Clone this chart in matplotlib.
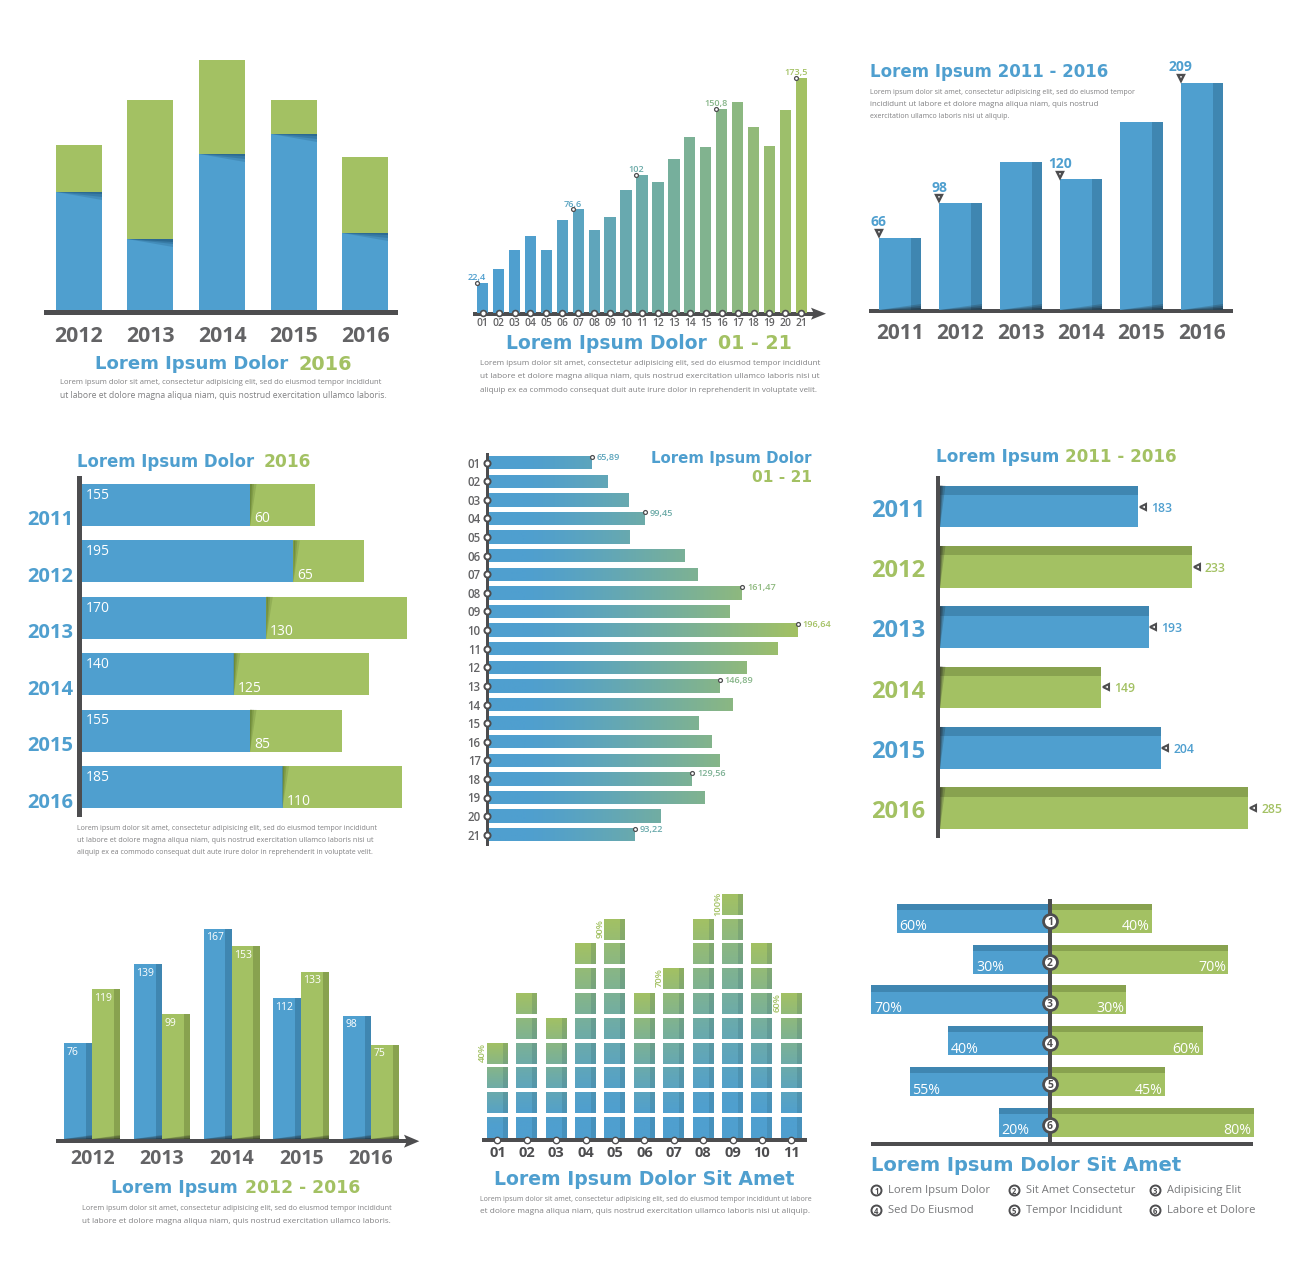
import numpy as np
import matplotlib
matplotlib.use("Agg")
import matplotlib.pyplot as plt
from matplotlib.font_manager import FontProperties
from matplotlib.textpath import TextPath
from matplotlib.path import Path
from matplotlib.patches import PathPatch, Polygon

W, H = 1300, 1267
BLUE = "#4F9FCF"; GREEN = "#A3C163"; DBLUE = "#3F86B1"; DGREEN = "#88A24F"
AXIS = "#4D4D4F"; LBL = "#636365"; BODY = "#808082"
VC = "center_baseline"

# --- Data ---
stack_years = ["2012", "2013", "2014", "2015", "2016"]
stack_blue = [118, 70.7, 156, 176, 77.3]
stack_green = [47.3, 139.3, 93.7, 34, 75.4]

trend_labels = [f"{i:02d}" for i in range(1, 22)]
trend_values = [22.4, 32.7, 46.3, 56.6, 46.8, 69.0, 76.6, 61.5, 70.6, 90.6, 102.0,
                97.0, 114.0, 130.0, 122.5, 150.8, 155.8, 137.4, 123.0, 150.0, 173.5]
trend_marked = {1: "22,4", 7: "76,6", 11: "102", 16: "150,8", 21: "173,5"}

step_years = ["2011", "2012", "2013", "2014", "2015", "2016"]
step_values = [66, 98, 136, 120, 173, 209]
step_marked = [0, 1, 3, 5]

hstack_years = ["2011", "2012", "2013", "2014", "2015", "2016"]
hstack_blue = [155, 195, 170, 140, 155, 185]
hstack_green = [60, 65, 130, 125, 85, 110]

hgrad_labels = [f"{i:02d}" for i in range(1, 22)]
hgrad_values = [65.89, 75.7, 89.0, 99.45, 89.7, 124.9, 133.0, 161.47, 153.3, 196.64, 184.3,
                164.2, 146.89, 155.5, 133.8, 142.3, 147.2, 129.56, 137.8, 109.6, 93.22]
hgrad_marked = {1: "65,89", 4: "99,45", 8: "161,47", 10: "196,64", 13: "146,89", 18: "129,56", 21: "93,22"}

hbar_years = ["2011", "2012", "2013", "2014", "2015", "2016"]
hbar_values = [183, 233, 193, 149, 204, 285]

group_years = ["2012", "2013", "2014", "2015", "2016"]
group_blue = [76, 139, 167, 112, 98]
group_green = [119, 99, 153, 133, 75]

block_labels = [f"{i:02d}" for i in range(1, 12)]
block_values = [40, 60, 50, 80, 90, 60, 70, 90, 100, 80, 60]
block_marked = [0, 4, 6, 8, 10]

diverge_left = [60, 30, 70, 40, 55, 20]
diverge_right = [40, 70, 30, 60, 45, 80]
legend_items = ["Lorem Ipsum Dolor", "Sit Amet Consectetur", "Adipisicing Elit",
                "Sed Do Eiusmod", "Tempor Incididunt", "Labore et Dolore"]

BODY1 = "Lorem ipsum dolor sit amet, consectetur adipisicing elit, sed do eiusmod tempor incididunt"
BODY2 = "ut labore et dolore magna aliqua niam, quis nostrud exercitation ullamco laboris nisi ut"
BODY3 = "aliquip ex ea commodo consequat duit aute irure dolor in reprehenderit in voluptate velit."

fig = plt.figure(figsize=(W / 100, H / 100), dpi=100, facecolor="white")
TITLEF = dict(family="DejaVu Sans", weight="bold")
NUMF = dict(family="Open Sans", weight="bold")
SEMI = dict(family="Open Sans", weight="semibold")
REG = dict(family="Open Sans", weight="normal")


def panel(x0, sx, y0, sy, z=1):
    """Full-figure transparent axes: x_px = x0 + sx*v, y_px = y0 - sy*v."""
    ax = fig.add_axes([0, 0, 1, 1], zorder=z)
    ax.set_xlim((0 - x0) / sx, (W - x0) / sx)
    ax.set_ylim((y0 - H) / sy, y0 / sy)
    ax.axis("off")
    ax.patch.set_alpha(0)
    return ax


def rgb(c):
    return np.array(matplotlib.colors.to_rgb(c))


def mix(t):
    t = np.clip((np.asarray(t, float) - 0.12) / 0.88, 0, 1) ** 1.25
    return rgb(BLUE) * (1 - t)[..., None] + rgb(GREEN) * t[..., None]


def gradient(ax, patches, extent, horizontal):
    verts, codes = [], []
    for p in patches:
        path = p.get_path().transformed(p.get_patch_transform())
        verts.extend(path.vertices)
        codes.extend(path.codes)
    clip = PathPatch(Path(verts, codes), transform=ax.transData, fc="none", ec="none")
    ax.add_patch(clip)
    t = np.linspace(0, 1, 256)
    img = mix(t)[None, :, :] if horizontal else mix(t)[:, None, :]
    xl, yl = ax.get_xlim(), ax.get_ylim()
    im = ax.imshow(img, extent=extent, origin="lower", aspect="auto", zorder=2, interpolation="bilinear")
    im.set_clip_path(clip)
    ax.set_xlim(xl); ax.set_ylim(yl)


page = panel(0, 1, 0, -1, z=10)
under = panel(0, 1, 0, -1, z=0)
middle = panel(0, 1, 0, -1, z=5)


def fit(x0, x1, y, s, color, font, ax=page, **kw):
    fp = FontProperties(**font)
    w = TextPath((0, 0), s, size=10, prop=fp).get_extents().width * 100 / 72
    size = 10 * (x1 - x0) / w
    return ax.text(x0, y - 0.07 * size, s, color=color, fontproperties=fp, fontsize=size,
                   ha="left", va=VC, **kw)


def rule(x0, x1, y0, y1, ax=under, color=AXIS):
    ax.fill([x0, x1, x1, x0], [y0, y0, y1, y1], color=color, lw=0, zorder=5)


def arrow(xbase, xtip, yc, h, ax=under):
    ax.fill([xbase, xtip, xbase, xbase + 3], [yc - h / 2, yc, yc + h / 2, yc], color=AXIS, lw=0, zorder=5)


LAYERS = [(1.0, 0.2), (0.6, 0.25), (0.3, 0.35)]


def soft(ax, make, color):
    for frac, a in LAYERS:
        ax.add_patch(Polygon(make(frac), closed=True, fc=color, alpha=a, lw=0, zorder=4))


def wedges(ax, lefts, width, height):
    for l in lefts:
        soft(ax, lambda f, l=l: [(l, 0), (l + width, 0), (l + width, height * f)], "#1c1c1c")


# --- 1. stacked columns ---
ax = panel(78.7, 71.67, 310, 1.0)
xs = np.arange(len(stack_years))
hw = 23 / 71.67
ax.bar(xs, stack_blue, width=2 * hw, color=BLUE, zorder=2)
ax.bar(xs, stack_green, bottom=stack_blue, width=2 * hw, color=GREEN, zorder=2)
for x, b in zip(xs, stack_blue):
    soft(ax, lambda f, x=x, b=b: [(x - hw, b), (x + hw, b), (x + hw, b - 8 * f)], "#17496b")
for x, y in zip(xs, stack_years):
    ax.text(x, -23.5, y, ha="center", va=VC, color=LBL, fontsize=15.3, **NUMF)
rule(44, 398, 310, 314.5)
fit(95, 287, 363, "Lorem Ipsum Dolor", BLUE, TITLEF)
fit(298, 349, 363, "2016", GREEN, TITLEF)
fit(60, 383, 382, BODY1, BODY, REG)
fit(60, 383, 395, "ut labore et dolore magna aliqua niam, quis nostrud exercitation ullamco laboris.", BODY, REG)

# --- 2. gradient trend ---
ax = panel(482.7 - 15.93, 15.93, 313, 1.354)
xs = np.arange(1, 22)
tt = (xs - 1) / 20
ax.bar(xs, trend_values, width=0.71, color=mix(tt), zorder=2)
rule(472.7, 815, 312, 315.5)
arrow(811, 826, 313.7, 12)
ax.plot(xs, np.zeros(21) - 0.2, "o", ms=4.2, mfc="white", mec=AXIS, mew=1.2, zorder=7, ls="none", clip_on=False)
for x, lab in zip(xs, trend_labels):
    ax.text(x, -6.4, lab, ha="center", va=VC, color=LBL, fontsize=7.4, **SEMI)
for i, lab in trend_marked.items():
    v = trend_values[i - 1]; c = mix((i - 1) / 20)
    ax.plot([i - 0.36], [v], "o", ms=2.8, mfc="white", mec=AXIS, mew=0.9, zorder=7)
    ax.text(i - 0.36, v + 4.6, lab, ha="center", va=VC, color=c, fontsize=6.6, **SEMI)
fit(506, 705.7, 342.7, "Lorem Ipsum Dolor", BLUE, TITLEF)
fit(717.7, 789.3, 342.7, "01 - 21", GREEN, TITLEF)
for y, l in zip([362.7, 376.3, 390], [BODY1, BODY2, BODY3]):
    fit(480, 816, y, l, BODY, REG)

# --- 3. columns with side face ---
ax = panel(900.1, 60.33, 309.5, 1.086)
xs = np.arange(6)
bw = 42.3 / 60.33; sw = 10.3 / 60.33
ax.bar(xs, step_values, width=bw, color=BLUE, zorder=2)
ax.bar(xs + bw / 2 - sw / 2, step_values, width=sw, color=DBLUE, zorder=3)
wedges(ax, xs - bw / 2, bw, 5)
for x, y in zip(xs, step_years):
    ax.text(x, -19.6, y, ha="center", va=VC, color=LBL, fontsize=15, **NUMF)
for i in step_marked:
    v = step_values[i]
    ax.plot([i - bw / 2], [v + 4.3], "v", ms=4.8, mfc="white", mec=AXIS, mew=1.7, zorder=7)
    ax.text(i - bw / 2, v + 15.5, str(v), ha="center", va=VC, color=BLUE, fontsize=10, **NUMF)
rule(869.3, 1232.7, 309.3, 313.3)
fit(870, 1106.7, 71, "Lorem Ipsum 2011 - 2016", BLUE, TITLEF)
fit(870, 1133, 92, "Lorem ipsum dolor sit amet, consectetur adipisicing elit, sed do eiusmod tempor", BODY, REG)
fit(870, 1098, 104, "incididunt ut labore et dolore magna aliqua niam, quis nostrud", BODY, REG)
fit(870, 1006, 116, "exercitation ullamco laboris nisi ut aliquip.", BODY, REG)

# --- 4. stacked horizontal ---
ax = panel(82, 1.084, 505, -56.45)
ys = np.arange(6)
ax.barh(ys, hstack_blue, height=42 / 56.45, color=BLUE, zorder=2)
ax.barh(ys, hstack_green, left=hstack_blue, height=42 / 56.45, color=GREEN, zorder=2)
hh = 21 / 56.45
for y, b, g, yr in zip(ys, hstack_blue, hstack_green, hstack_years):
    soft(ax, lambda f, y=y, b=b: [(b, y - hh), (b + 6 * f, y - hh), (b, y + hh)], "#4f6a22")
    ax.text(3.5, y - 0.21, str(b), color="white", ha="left", va=VC, fontsize=10, **REG)
    ax.text(b + 3.5, y + 0.21, str(g), color="white", ha="left", va=VC, fontsize=10, **REG)
    ax.text(-8, y + 0.23, yr, color=BLUE, ha="right", va=VC, fontsize=14.5, **NUMF)
rule(77.3, 82, 476, 816.7)
fit(77, 253, 461, "Lorem Ipsum Dolor", BLUE, TITLEF)
fit(264, 309, 461, "2016", GREEN, TITLEF)
for y, l in zip([828, 840, 852], [BODY1, BODY2, BODY3]):
    fit(77, 372, y, l, BODY, REG)

# --- 5. horizontal gradient ---
ax = panel(488.9, 1.57, 462.7 - 18.6, -18.6)
ys = np.arange(1, 22)
bars = ax.barh(ys, hgrad_values, height=13.3 / 18.6, color=BLUE, zorder=1)
top_v = max(hgrad_values)
gradient(ax, bars, (0, top_v, 0, 22), True)
rule(485.7, 489, 452.7, 846)
ax.plot(np.full(21, -1.0), ys, "o", ms=4.4, mfc="white", mec=AXIS, mew=1.4, zorder=12, ls="none", clip_on=False)
for y, lab in zip(ys, hgrad_labels):
    ax.text(-5.2, y, lab, ha="right", va=VC, color=LBL, fontsize=8.3, **SEMI)
for i, lab in hgrad_marked.items():
    v = hgrad_values[i - 1]; yy = i - 0.33
    ax.plot([v], [yy], "o", ms=2.8, mfc="white", mec=AXIS, mew=0.9, zorder=7)
    ax.text(v + 3, yy, lab, ha="left", va=VC, color=mix(v / top_v), fontsize=6.6, **SEMI)
fit(651, 810, 458, "Lorem Ipsum Dolor", BLUE, TITLEF)
fit(752, 810, 477, "01 - 21", GREEN, TITLEF)

# --- 6. horizontal with top face ---
ax = panel(940, 1.082, 506.5, -60.33)
ys = np.arange(6)
cols = [BLUE, GREEN] * 3
dcols = [DBLUE, DGREEN] * 3
bh = 41.7 / 60.33; sh = 9.5 / 60.33
ax.barh(ys, hbar_values, height=bh, color=cols, zorder=2)
ax.barh(ys - bh / 2 + sh / 2, hbar_values, height=sh, color=dcols, zorder=3)
for y, v, c, yr in zip(ys, hbar_values, cols, hbar_years):
    soft(ax, lambda f, y=y: [(0, y - bh / 2), (5 * f, y - bh / 2), (0, y + bh / 2)], "#222222")
    ax.plot([v + 4.3], [y], "<", ms=4.8, mfc="white", mec=AXIS, mew=1.5, zorder=7)
    ax.text(v + 11.8, y, str(v), ha="left", va=VC, color=c, fontsize=8.8, **SEMI)
    ax.text(-63.8, y + 0.02, yr, ha="left", va=VC, color=c, fontsize=17, **NUMF)
rule(936, 940, 476, 838.3)
fit(936, 1056.7, 455.7, "Lorem Ipsum", BLUE, TITLEF)
fit(1065, 1175, 455.7, "2011 - 2016", GREEN, TITLEF)

# --- 7. grouped columns ---
ax = panel(92.3, 69.67, 1139, 1.2585)
xs = np.arange(5)
bw = 28 / 69.67; sw = 6.3 / 69.67
ax.bar(xs - bw / 2, group_blue, width=bw, color=BLUE, zorder=2)
ax.bar(xs - sw / 2, group_blue, width=sw, color=DBLUE, zorder=3)
ax.bar(xs + bw / 2, group_green, width=bw, color=GREEN, zorder=2)
ax.bar(xs + bw - sw / 2, group_green, width=sw, color=DGREEN, zorder=3)
wedges(ax, xs - bw, bw, 3.5)
wedges(ax, xs, bw, 3.5)
for x, b, g, y in zip(xs, group_blue, group_green, group_years):
    ax.text(x - bw + 0.03, b - 6, str(b), color="white", ha="left", va=VC, fontsize=7.5, **REG)
    ax.text(x + 0.03, g - 6, str(g), color="white", ha="left", va=VC, fontsize=7.5, **REG)
    ax.text(x, -14, y, ha="center", va=VC, color=LBL, fontsize=14, **NUMF)
rule(56, 410, 1139, 1143.3)
arrow(404, 419.3, 1141.2, 13)
fit(110.7, 234, 1186.7, "Lorem Ipsum", BLUE, TITLEF)
fit(245, 357.7, 1186.7, "2012 - 2016", GREEN, TITLEF)
fit(81.7, 386.7, 1208.3, BODY1, BODY, REG)
fit(81.7, 386.7, 1220.7, "ut labore et dolore magna aliqua niam, quis nostrud exercitation ullamco laboris.", BODY, REG)

# --- 8. block columns ---
ax = panel(497.4, 29.4, 1138, 2.48)
xs = np.arange(11)
bw = 21 / 29.4; sw = 5 / 29.4
for x, v in zip(xs, block_values):
    bottoms = np.arange(0, v, 10)
    blocks = ax.bar(np.full(len(bottoms), x), np.full(len(bottoms), 8.5), bottom=bottoms, width=bw,
                    color=BLUE, zorder=1)
    gradient(ax, blocks, (x - bw / 2, x + bw / 2, 0, v - 1.5), False)
    ax.bar(np.full(len(bottoms), x + bw / 2 - sw / 2), np.full(len(bottoms), 8.5), bottom=bottoms, width=sw,
           color="#1E4A5A", alpha=0.16, zorder=3)
    ax.text(x, -5.6, block_labels[x], ha="center", va=VC, color=AXIS, fontsize=10.5, **NUMF)
for i in block_marked:
    v = block_values[i]
    ax.text(i - bw / 2 + 0.01, v - 5.5, f"{v}%", rotation=90, ha="right", va="center", color=GREEN,
            fontsize=6.8, **SEMI)
rule(482, 806.7, 1138, 1142)
ax.plot(xs, np.full(11, -0.8), "o", ms=4.6, mfc="white", mec=AXIS, mew=1.0, zorder=7, ls="none", clip_on=False)
fit(494, 792.7, 1178.3, "Lorem Ipsum Dolor Sit Amet", BLUE, TITLEF)
fit(480, 806.7, 1199, "Lorem ipsum dolor sit amet, consectetur adipisicing elit, sed do eiusmod tempor incididunt ut labore", BODY, REG)
fit(480, 806.7, 1211.3, "et dolore magna aliqua niam, quis nostrud exercitation ullamco laboris nisi ut aliquip.", BODY, REG)

# --- 9. diverging ---
ax = panel(1050, 2.55, 918.3, -40.8)
ys = np.arange(6)
h = 29 / 40.8; st = 6.3 / 40.8
ax.barh(ys, [-v for v in diverge_left], height=h, color=BLUE, zorder=2)
ax.barh(ys, diverge_right, height=h, color=GREEN, zorder=2)
ax.barh(ys - h / 2 + st / 2, [-v for v in diverge_left], height=st, color=DBLUE, zorder=3)
ax.barh(ys - h / 2 + st / 2, diverge_right, height=st, color=DGREEN, zorder=3)
rule(1048, 1052, 899.3, 1143, ax=middle)
rule(871, 1253.3, 1141.7, 1145.7, ax=middle)
pan_top = panel(1050, 2.55, 918.3, -40.8, z=11)
for y, l, r in zip(ys, diverge_left, diverge_right):
    ax.text(-l + 1, y + 0.16, f"{l}%", color="white", ha="left", va=VC, fontsize=10.2, **REG)
    ax.text(r - 1, y + 0.16, f"{r}%", color="white", ha="right", va=VC, fontsize=10.2, **REG)
    pan_top.plot([0], [y + 0.065], "o", ms=10, mfc="white", mec=AXIS, mew=2.0, zorder=7)
    pan_top.text(0, y + 0.065, str(y + 1), color=AXIS, ha="center", va=VC, fontsize=7.5, zorder=9, **NUMF)
fit(871, 1180, 1164, "Lorem Ipsum Dolor Sit Amet", BLUE, TITLEF)
legend_pos = [(876.3, 1190, 888.3, 988.3), (1013.7, 1190, 1025.7, 1134), (1155, 1190, 1166.7, 1240),
              (876.3, 1210, 888.3, 972), (1013.7, 1210, 1025.7, 1120.7), (1155, 1210, 1166.7, 1253.3)]
for n, (item, (cx, cy, t0, t1)) in enumerate(zip(legend_items, legend_pos), 1):
    page.plot([cx], [cy], "o", ms=7.2, mfc="white", mec=AXIS, mew=1.4, zorder=7)
    page.text(cx, cy, str(n), color=AXIS, ha="center", va=VC, fontsize=5.5, zorder=9, **NUMF)
    fit(t0, t1, cy, item, "#77787A", REG)

fig.savefig("out.png", dpi=100, facecolor="white")
